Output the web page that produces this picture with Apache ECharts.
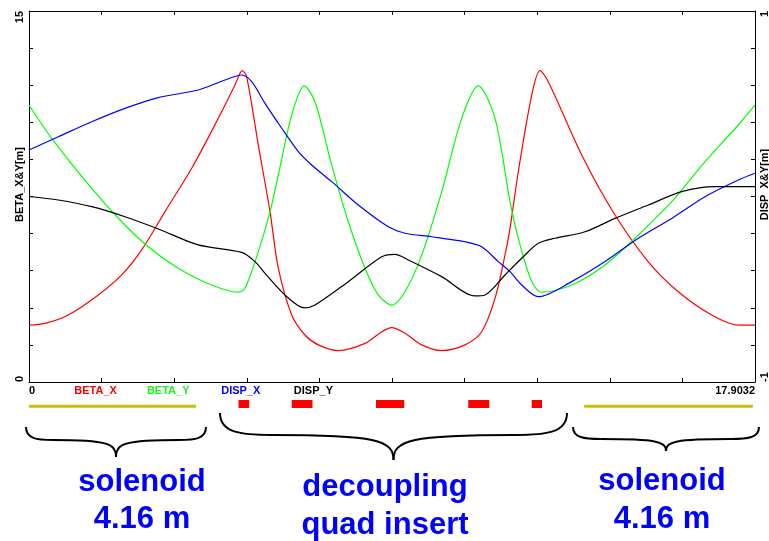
<!DOCTYPE html>
<html>
<head>
<meta charset="utf-8">
<script src="https://cdn.jsdelivr.net/npm/echarts@6/dist/echarts.min.js"></script>
<style>html,body{margin:0;padding:0;background:#fff}#c{width:769px;height:541px}</style>
</head>
<body>
<div id="c"></div>
<script>
// ---------- data ----------
const S_MAX = 17.9032;
const S_STEP = 1.79032;
const X_TICK_LABELS = ['0', 'BETA_X', 'BETA_Y', 'DISP_X', 'DISP_Y', '', '', '', '', '', '17.9032'];
const LEFT_MIN = 0, LEFT_MAX = 15, LEFT_STEP = 1.5;
const RIGHT_MIN = -1, RIGHT_MAX = 1, RIGHT_STEP = 0.2;
const LEFT_NAME = 'BETA_X&Y[m]';
const RIGHT_NAME = 'DISP_X&Y[m]';

const betaX = [
  [0, 2.30], [0.395, 2.37], [0.969, 2.71], [1.709, 3.52], [2.286, 4.33], [2.779, 5.34],
  [3.354, 6.89], [4.012, 8.64], [4.668, 10.66], [5.080, 12.01], [5.260, 12.59], [5.368, 12.34],
  [5.655, 9.58], [5.943, 6.89], [6.148, 4.60], [6.478, 2.71], [6.806, 1.90], [7.134, 1.50],
  [7.627, 1.27], [8.286, 1.56], [8.698, 2.03], [8.944, 2.20], [9.272, 1.97], [9.684, 1.50],
  [10.177, 1.27], [10.752, 1.50], [11.163, 2.03], [11.492, 3.38], [11.738, 5.13], [11.862, 6.21],
  [12.066, 8.50], [12.397, 11.60], [12.602, 12.59], [12.806, 12.14], [13.630, 9.18], [14.451, 6.75],
  [15.272, 4.86], [16.012, 3.65], [16.836, 2.71], [17.492, 2.30], [17.9032, 2.30]
];
const betaY = [
  [0, 11.20], [0.560, 9.85], [1.546, 7.83], [2.286, 6.48], [2.942, 5.47], [3.682, 4.60],
  [4.505, 3.92], [5.161, 3.63], [5.327, 3.79], [5.655, 5.27], [5.943, 6.89], [6.148, 8.37],
  [6.478, 10.79], [6.789, 11.97], [7.053, 11.33], [7.465, 8.77], [7.874, 6.48], [8.286, 4.60],
  [8.614, 3.52], [8.944, 3.11], [9.272, 3.65], [9.684, 5.13], [10.177, 7.69], [10.670, 10.66],
  [11.080, 11.97], [11.492, 10.66], [11.862, 7.29], [12.066, 5.81], [12.397, 4.06], [12.643, 3.63],
  [13.383, 3.92], [14.204, 4.73], [15.025, 5.94], [15.849, 7.29], [16.670, 8.91], [17.492, 10.39],
  [17.9032, 11.20]
];
const dispX = [
  [0, 0.251], [0.723, 0.322], [1.546, 0.403], [2.367, 0.475], [3.189, 0.533], [4.175, 0.574],
  [4.833, 0.628], [5.245, 0.655], [5.492, 0.619], [5.820, 0.502], [6.232, 0.368], [6.641, 0.242],
  [6.971, 0.170], [7.465, 0.080], [8.121, -0.046], [8.860, -0.163], [9.272, -0.198], [9.930, -0.217],
  [10.752, -0.244], [11.163, -0.271], [11.573, -0.351], [11.862, -0.405], [12.150, -0.477],
  [12.559, -0.540], [13.383, -0.459], [14.204, -0.351], [15.025, -0.225], [15.849, -0.118],
  [16.670, -0.001], [17.492, 0.089], [17.9032, 0.125]
];
const dispY = [
  [0, 0.0], [0.723, -0.019], [1.546, -0.055], [2.367, -0.109], [3.189, -0.175], [4.175, -0.261],
  [5.245, -0.301], [5.573, -0.351], [5.820, -0.414], [6.313, -0.531], [6.789, -0.600], [7.053, -0.585],
  [7.874, -0.459], [8.698, -0.325], [9.026, -0.312], [9.354, -0.342], [10.177, -0.432], [10.998, -0.536],
  [11.245, -0.531], [11.738, -0.423], [12.150, -0.333], [12.559, -0.252], [12.971, -0.225],
  [13.711, -0.190], [14.451, -0.118], [15.272, -0.046], [16.096, 0.026], [16.918, 0.053], [17.9032, 0.053]
];
// lattice elements (start, end) along s
const QUADS = [[5.166, 5.430], [6.478, 6.991], [8.557, 9.253], [10.831, 11.351], [12.397, 12.651]];
const SOLENOIDS = [[0, 4.12], [13.69, 17.85]];
// annotations
const NOTES = [
  {lines: ['solenoid', '4.16 m'], x: 142},
  {lines: ['decoupling', 'quad insert'], x: 385},
  {lines: ['solenoid', '4.16 m'], x: 662}
];

// ---------- chart ----------
const FONT = '"Liberation Sans", Arial, Helvetica, sans-serif';
const chart = echarts.init(document.getElementById('c'), null, {renderer: 'canvas'});

const labelColors = {BETA_X: '#ff0000', BETA_Y: '#22ee22', DISP_X: '#0000ff', DISP_Y: '#000000'};
const rich = {};
Object.keys(labelColors).forEach(k => {
  rich[k] = {color: labelColors[k], fontFamily: FONT, fontWeight: 'bold', fontSize: 11, padding: [0, 12, 0, 0]};
});

function near(a, b) { return Math.abs(a - b) < 1e-6; }

const axisLine = {show: true, onZero: false, lineStyle: {color: '#000', width: 1}};
const axisTick = {show: true, inside: true, length: 4, lineStyle: {color: '#000', width: 1}};

const braceStyle = {fill: null, stroke: '#000', lineWidth: 2};
function brace(x0, x1, y0, yb, yt) {
  const xm = (x0 + x1) / 2, h = xm - x0, d = yt - yb;
  const segs = [
    [x0, y0, x0, y0 + (yb - y0) * 0.9, x0 + h * 0.12, yb, x0 + h * 0.3, yb],
    [x0 + h * 0.3, yb, xm - h * 0.1, yb, xm, yb + d * 0.2, xm, yt],
    [xm, yt, xm, yb + d * 0.2, xm + h * 0.1, yb, x1 - h * 0.3, yb],
    [x1 - h * 0.3, yb, x1 - h * 0.12, yb, x1, y0 + (yb - y0) * 0.9, x1, y0]
  ];
  return segs.map(s => ({
    type: 'bezierCurve',
    shape: {x1: s[0], y1: s[1], cpx1: s[2], cpy1: s[3], cpx2: s[4], cpy2: s[5], x2: s[6], y2: s[7]},
    style: braceStyle
  }));
}

let graphics = [];
graphics = graphics.concat(brace(26, 206, 427, 440, 457));
graphics = graphics.concat(brace(220, 567, 413, 435, 460));
graphics = graphics.concat(brace(573, 759, 427, 439, 451));
const noteY = [[482, 519], [487.5, 525.5], [481, 519]];
NOTES.forEach((n, i) => {
  n.lines.forEach((t, j) => {
    graphics.push({
      type: 'text', x: n.x, y: noteY[i][j],
      style: {text: t, fill: '#0000ff', font: 'bold 31px ' + FONT, align: 'center', verticalAlign: 'middle'}
    });
  });
});

function rectItem(kind) {
  return function (params, api) {
    const a = api.coord([api.value(0), 0]);
    const b = api.coord([api.value(1), 1]);
    const bottom = a[1], top = b[1];
    if (kind === 'quad') {
      return {type: 'rect', shape: {x: a[0], y: top, width: b[0] - a[0], height: bottom - top}, style: {fill: '#ff0000'}};
    }
    return {type: 'rect', shape: {x: a[0], y: bottom - 3.3, width: b[0] - a[0], height: 3}, style: {fill: '#c4c400'}};
  };
}

const option = {
  backgroundColor: '#fff',
  animation: false,
  grid: [
    {left: 29, right: 14, top: 11, bottom: 159, outerBoundsMode: 'none', containLabel: false},
    {left: 29, right: 14, top: 400, height: 8, outerBoundsMode: 'none', containLabel: false}
  ],
  xAxis: [
    {
      type: 'value', gridIndex: 0, position: 'bottom', min: 0, max: S_MAX, interval: S_STEP,
      axisLine, axisTick, splitLine: {show: false},
      axisLabel: {
        show: true, margin: 3, color: '#000', fontFamily: FONT, fontWeight: 'bold', fontSize: 11,
        alignMinLabel: 'left', alignMaxLabel: 'right', showMinLabel: true, showMaxLabel: true, hideOverlap: false,
        rich,
        formatter: function (v) {
          const i = Math.round(v / S_STEP);
          const t = X_TICK_LABELS[i] || '';
          if (labelColors[t]) return '{' + t + '|' + t + '}';
          return t;
        }
      }
    },
    {
      type: 'value', gridIndex: 0, position: 'top', min: 0, max: S_MAX, interval: S_STEP,
      axisLine, axisTick, splitLine: {show: false}, axisLabel: {show: false}
    },
    {type: 'value', gridIndex: 1, min: 0, max: S_MAX, show: false}
  ],
  yAxis: [
    {
      type: 'value', gridIndex: 0, position: 'left', min: LEFT_MIN, max: LEFT_MAX, interval: LEFT_STEP,
      axisLine, axisTick, splitLine: {show: false},
      name: LEFT_NAME, nameLocation: 'middle', nameRotate: 90, nameGap: 4, nameMoveOverlap: false,
      nameTextStyle: {color: '#000', fontFamily: FONT, fontWeight: 'bold', fontSize: 11, padding: [0, 0, 0, 24]},
      axisLabel: {
        show: true, rotate: 90, margin: 4, color: '#000', fontFamily: FONT, fontWeight: 'bold', fontSize: 11,
        alignMinLabel: 'left', alignMaxLabel: 'right', showMinLabel: true, showMaxLabel: true,
        formatter: v => (near(v, LEFT_MIN) || near(v, LEFT_MAX)) ? String(Math.round(v)) : ''
      }
    },
    {
      type: 'value', gridIndex: 0, position: 'right', min: RIGHT_MIN, max: RIGHT_MAX, interval: RIGHT_STEP,
      axisLine, axisTick, splitLine: {show: false},
      name: RIGHT_NAME, nameLocation: 'middle', nameRotate: 90, nameGap: 4, nameMoveOverlap: false,
      nameTextStyle: {color: '#000', fontFamily: FONT, fontWeight: 'bold', fontSize: 11, padding: [0, 0, 0, 24]},
      axisLabel: {
        show: true, rotate: 90, margin: 4, color: '#000', fontFamily: FONT, fontWeight: 'bold', fontSize: 11,
        alignMinLabel: 'left', alignMaxLabel: 'right', showMinLabel: true, showMaxLabel: true,
        formatter: v => (near(v, RIGHT_MIN) || near(v, RIGHT_MAX)) ? String(Math.round(v)) : ''
      }
    },
    {type: 'value', gridIndex: 1, min: 0, max: 1, show: false}
  ],
  series: [
    {name: 'BETA_X', type: 'line', xAxisIndex: 0, yAxisIndex: 0, data: betaX, smooth: 0.3, showSymbol: false, lineStyle: {color: '#ff0000', width: 1.2}, itemStyle: {color: '#ff0000'}},
    {name: 'BETA_Y', type: 'line', xAxisIndex: 0, yAxisIndex: 0, data: betaY, smooth: 0.3, showSymbol: false, lineStyle: {color: '#00ff00', width: 1.2}, itemStyle: {color: '#00ff00'}},
    {name: 'DISP_X', type: 'line', xAxisIndex: 0, yAxisIndex: 1, data: dispX, smooth: 0.3, showSymbol: false, lineStyle: {color: '#0000ff', width: 1.2}, itemStyle: {color: '#0000ff'}},
    {name: 'DISP_Y', type: 'line', xAxisIndex: 0, yAxisIndex: 1, data: dispY, smooth: 0.3, showSymbol: false, lineStyle: {color: '#000000', width: 1.2}, itemStyle: {color: '#000000'}},
    {type: 'custom', xAxisIndex: 2, yAxisIndex: 2, data: SOLENOIDS, renderItem: rectItem('sol'), clip: false},
    {type: 'custom', xAxisIndex: 2, yAxisIndex: 2, data: QUADS, renderItem: rectItem('quad'), clip: false}
  ],
  graphic: graphics
};
chart.setOption(option);
</script>
</body>
</html>
